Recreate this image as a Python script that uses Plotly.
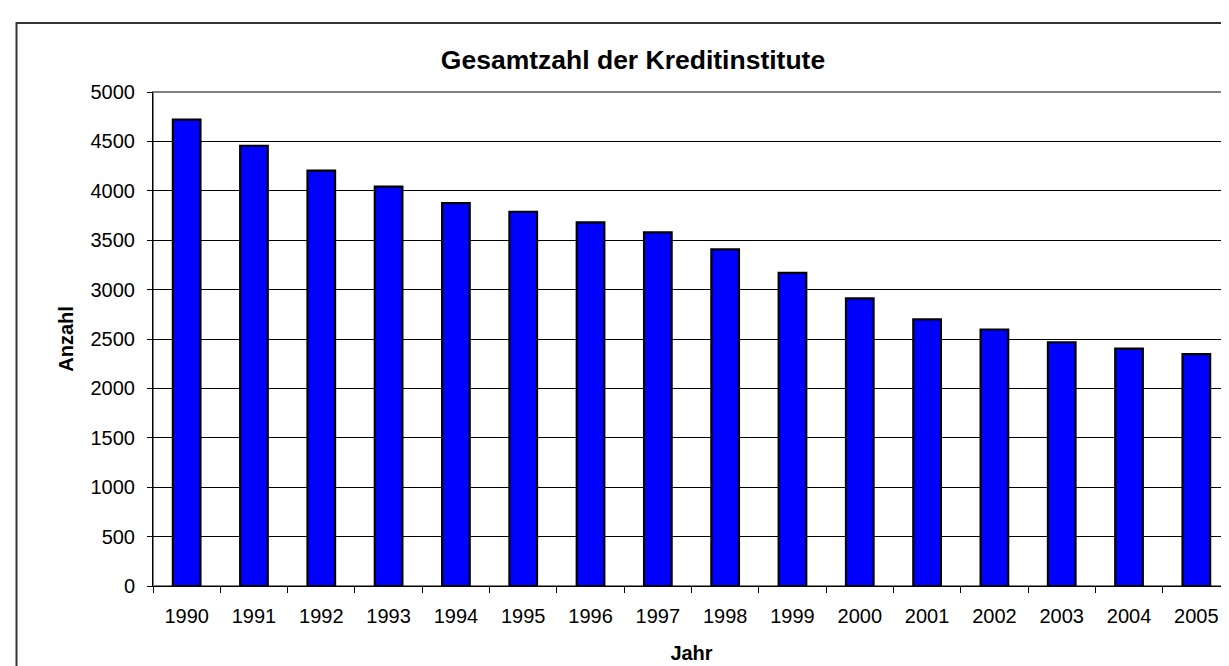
import plotly.graph_objects as go

years = ["1990", "1991", "1992", "1993", "1994", "1995", "1996", "1997",
         "1998", "1999", "2000", "2001", "2002", "2003", "2004", "2005"]
anzahl = [4720, 4456, 4205, 4042, 3876, 3788, 3680, 3580,
          3408, 3170, 2912, 2698, 2596, 2467, 2402, 2346]

title_text = "Gesamtzahl der Kreditinstitute"
x_title = "Jahr"
y_title = "Anzahl"

FONT = "Liberation Sans, Arial, sans-serif"

fig = go.Figure()
fig.add_trace(go.Bar(
    x=years, y=anzahl,
    marker=dict(color="#0000FF", line=dict(color="#000000", width=2.2)),
    hoverinfo="x+y",
))

W, H = 1229, 666
ml, mr, mt, mb = 145, 7, 84, 88

fig.update_layout(
    width=W, height=H, autosize=False,
    margin=dict(l=ml, r=mr, t=mt, b=mb, pad=0),
    paper_bgcolor="white", plot_bgcolor="white",
    bargap=0.59,
    showlegend=False,
    font=dict(family=FONT, size=20, color="#000000"),
    title=dict(text=title_text, font=dict(family=FONT, size=26.5, weight="bold", color="#000000"),
               x=625 / W, xref="container", xanchor="center",
               y=1 - 52 / H, yref="container", yanchor="middle"),
)

fig.update_xaxes(
    type="category",
    showline=True, linecolor="#000000", linewidth=1,
    ticks="outside", tickson="boundaries", ticklen=6, tickcolor="#000000", tickwidth=1,
    showgrid=False,
    tickfont=dict(family=FONT, size=20),
    ticklabelstandoff=12,
    title=dict(text=x_title, font=dict(family=FONT, size=20, weight="bold"), standoff=19),
)
fig.update_yaxes(
    range=[0, 5000], dtick=500, tick0=0,
    showline=True, linecolor="#000000", linewidth=1,
    ticks="outside", ticklen=5, tickcolor="#000000", tickwidth=1,
    showgrid=True, gridcolor="#000000", gridwidth=1,
    zeroline=False,
    tickfont=dict(family=FONT, size=20),
    ticklabelstandoff=8,
    title=dict(text=y_title, font=dict(family=FONT, size=20, weight="bold"), standoff=11),
)

# gray top/right border of the plot area
fig.add_shape(type="rect", xref="paper", yref="paper", x0=0, x1=1, y0=0, y1=1,
              line=dict(color="#808080", width=2), layer="below")

# outer chart border (partly outside the visible window)
pw = W - ml - mr
ph = H - mt - mb
fig.add_shape(type="rect", xref="paper", yref="paper",
              x0=(8.5 - ml) / pw, x1=(W + 20 - ml) / pw,
              y0=-(mb + 20) / ph, y1=(H - mb - 15) / ph,
              line=dict(color="#333333", width=2), layer="above")

fig.write_html("out.html")
